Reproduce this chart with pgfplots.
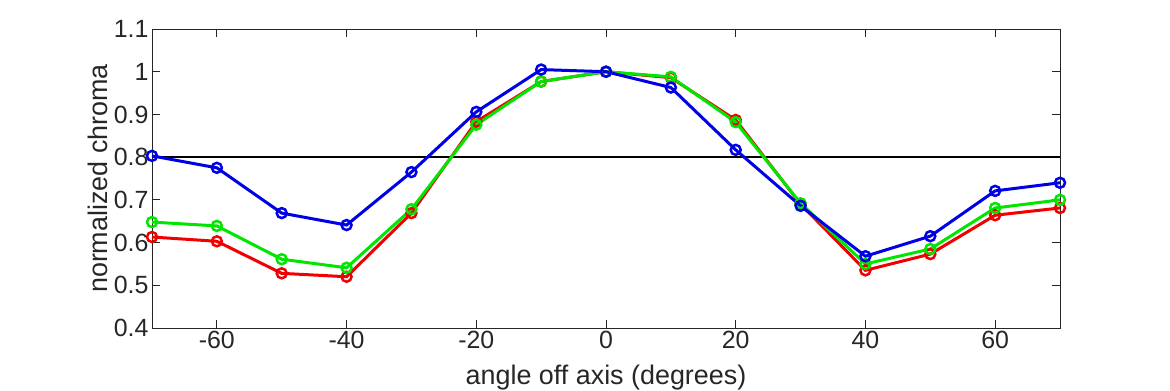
\documentclass[border=0pt]{standalone}
\usepackage{pgfplots}
\pgfplotsset{compat=1.18}
\usepackage{fontspec}
\setmainfont{Liberation Sans}
\definecolor{axgray}{RGB}{38,38,38}
\definecolor{mred}{RGB}{240,0,0}
\definecolor{mgreen}{RGB}{0,230,0}
\definecolor{mblue}{RGB}{0,0,230}
\begin{document}
\begin{tikzpicture}[x=1bp,y=1bp]
\useasboundingbox (-152,-62) rectangle (1018,328);
\begin{axis}[
  at={(0,0)}, anchor=south west,
  width=908bp, height=299bp, scale only axis,
  xmin=-70, xmax=70, ymin=0.4, ymax=1.1,
  xtick={-60,-40,...,60},
  ytick={0.4,0.5,...,1.1},
  yticklabels={0.4,0.5,0.6,0.7,0.8,0.9,1,1.1},
  tick align=inside,
  major tick length=8bp,
  axis line style={axgray, line width=1pt},
  tick style={axgray, line width=1pt},
  ticklabel style={font=\fontsize{25}{30}\selectfont, text=axgray},
  /pgf/number format/assume math mode=true,
  xlabel={angle off axis (degrees)},
  ylabel={normalized chroma},
  label style={font=\fontsize{27}{32}\selectfont, text=axgray},
  xlabel style={at={(axis description cs:0.5,-0.1906)}, anchor=base},
  ylabel style={at={(axis description cs:-0.0485,0.5)}, anchor=base, rotate=0},
  every axis plot/.append style={line width=3bp, mark=o, mark size=5bp, mark options={line width=2.5bp}},
  clip=false,
]
\addplot[black, line width=1.3pt, mark=none, forget plot] coordinates {(-70,0.8) (70,0.8)};
\addplot[mred] coordinates {
(-70,0.613) (-60,0.603) (-50,0.528) (-40,0.520) (-30,0.669) (-20,0.883) (-10,0.977)
(0,1.000) (10,0.986) (20,0.887) (30,0.690) (40,0.535) (50,0.573) (60,0.664) (70,0.681)};
\addplot[mgreen] coordinates {
(-70,0.648) (-60,0.639) (-50,0.561) (-40,0.541) (-30,0.678) (-20,0.876) (-10,0.977)
(0,1.000) (10,0.988) (20,0.882) (30,0.692) (40,0.550) (50,0.585) (60,0.681) (70,0.700)};
\addplot[mblue] coordinates {
(-70,0.803) (-60,0.775) (-50,0.669) (-40,0.641) (-30,0.765) (-20,0.906) (-10,1.005)
(0,1.000) (10,0.963) (20,0.817) (30,0.686) (40,0.568) (50,0.615) (60,0.721) (70,0.740)};
\end{axis}
\end{tikzpicture}
\end{document}
